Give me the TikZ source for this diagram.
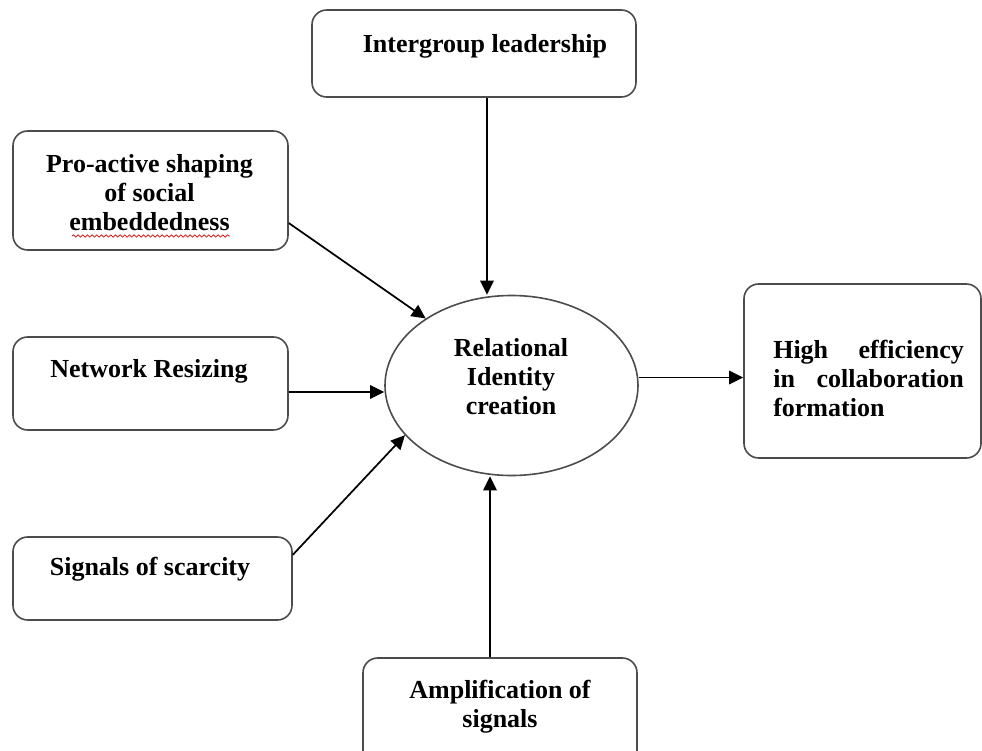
\documentclass[tikz,border=0pt]{standalone}
\usepackage{fontspec}
\setmainfont{Liberation Serif}
\usetikzlibrary{shapes.geometric,arrows.meta,calc,decorations.pathmorphing}

\tikzset{
  box/.style={draw=black!70, line width=1.2pt, rounded corners=11pt, fill=white,
    inner sep=0pt},
  oval/.style={ellipse, draw=black!70, line width=1.2pt, fill=white, inner sep=0pt},
  txt/.style={anchor=base, inner sep=0pt},
  arr/.style={draw=black, line width=1.3pt, -{Triangle[length=10.5pt,width=10pt]}},
}
% multi-line bold label, first baseline on the anchor
\newcommand{\labeltext}[1]{\parbox[t]{260pt}{\centering\fontsize{19.5}{22}\bfseries\selectfont #1}}

\begin{document}
\begin{tikzpicture}[x=0.75pt, y=-0.75pt]
  \clip (0,0) rectangle (982,750);
  \fill[white] (0,0) rectangle (982,750);

  % frames
  \node[box, minimum width=243pt,    minimum height=65.25pt] (inter) at (474,53.5)  {};
  \node[box, minimum width=206.25pt, minimum height=89.25pt] (pro)   at (150.5,190.5) {};
  \node[box, minimum width=206.25pt, minimum height=69.75pt] (net)   at (150.5,383.5) {};
  \node[box, minimum width=209.25pt, minimum height=62.25pt] (sig)   at (152.5,578.5) {};
  \node[box, minimum width=205.5pt,  minimum height=84pt]    (amp)   at (500,714)   {};
  \node[box, minimum width=177.75pt, minimum height=130.5pt] (hi)    at (862.5,371) {};
  \node[oval, minimum width=189.75pt, minimum height=135pt]  (rel)   at (511.5,385.5) {};

  % labels
  \node[txt] (tinter) at (485,52)  {\labeltext{Intergroup leadership}};
  \node[txt] (tpro)   at (149.5,172) {\labeltext{Pro-active shaping\\of social\\embeddedness}};
  \node[txt] (tnet)   at (149,377) {\labeltext{Network Resizing}};
  \node[txt] (tsig)   at (150,575) {\labeltext{Signals of scarcity}};
  \node[txt] (trel)   at (511,356) {\labeltext{Relational\\Identity\\creation}};
  \node[txt] (tamp)   at (500,698) {\labeltext{Amplification of\\signals}};
  \node[txt, anchor=base west] (thi) at (773,358) {\parbox[t]{143pt}{\fontsize{19.5}{22}\bfseries\selectfont
      \makebox[143pt][s]{High efficiency}\\
      \makebox[143pt][s]{in collaboration}\\
      formation}};

  % spell-check squiggle under the last word
  \draw[red!85!black, line width=0.5pt, decorate,
        decoration={snake, amplitude=0.9pt, segment length=3.5pt}]
        (72,236) -- (230,236);

  % connectors
  \coordinate (a1) at ($(inter.south)+(13,0)$);
  \draw[arr] (a1) -- (a1 |- rel.north);

  \coordinate (a2) at ($(pro.north east)!0.77!(pro.south east)$);
  \draw[arr] (a2) -- (rel.142);

  \coordinate (a3) at ($(net.east)+(0,8.5)$);
  \draw[arr] (a3) -- (a3 -| rel.west);

  \coordinate (a4) at ($(sig.north east)!0.22!(sig.south east)$);
  \draw[arr] (a4) -- (rel.205);

  \coordinate (a5) at ($(amp.north)+(-10,0)$);
  \draw[arr] (a5) -- (a5 |- rel.south);

  \coordinate (a6) at ($(rel.east)+(0,-8)$);
  \draw[arr] (a6) -- (a6 -| hi.west);
\end{tikzpicture}
\end{document}
